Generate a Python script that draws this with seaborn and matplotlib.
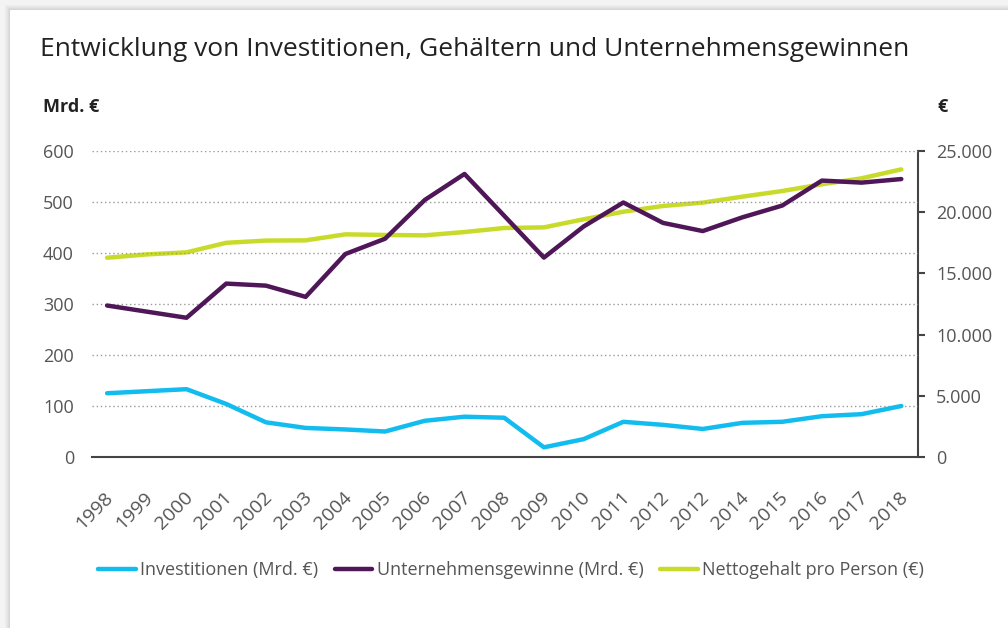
import matplotlib
matplotlib.use("Agg")
import matplotlib.pyplot as plt
import matplotlib.transforms as mtransforms
import seaborn as sns
import pandas as pd
import numpy as np
from matplotlib.patches import Rectangle

years = ["1998", "1999", "2000", "2001", "2002", "2003", "2004", "2005", "2006", "2007",
         "2008", "2009", "2010", "2011", "2012", "2012", "2014", "2015", "2016", "2017", "2018"]
investitionen = [125, 129, 133, 104, 68, 57, 54, 50, 71, 79, 77, 19, 35, 69, 63, 55, 67, 69, 80, 84, 100]
gewinne = [297, 285, 273, 340, 336, 314, 398, 428, 504, 555, 473, 391, 452, 499, 459, 443, 470, 493, 542, 538, 545]
nettogehalt = [16280, 16550, 16720, 17500, 17680, 17700, 18190, 18140, 18110, 18380, 18710,
               18760, 19420, 20040, 20510, 20780, 21270, 21730, 22280, 22770, 23500]

left_ticks = [0, 100, 200, 300, 400, 500, 600]
right_ticks = [0, 5000, 10000, 15000, 20000, 25000]
right_labels = ["0", "5.000", "10.000", "15.000", "20.000", "25.000"]

title = "Entwicklung von Investitionen, Gehältern und Unternehmensgewinnen"
names = ["Investitionen (Mrd. €)", "Unternehmensgewinne (Mrd. €)", "Nettogehalt pro Person (€)"]
colors = ["#12BCEE", "#4F1758", "#C9DB2A"]

sns.set_theme(style="white")
plt.rcParams["font.family"] = ["Open Sans", "DejaVu Sans"]

fig = plt.figure(figsize=(10.08, 6.28), dpi=100)
fig.patch.set_facecolor("#f4f4f4")
W, H = 1008, 628
# card with soft shadow
for i, a in enumerate(np.linspace(0.02, 0.10, 6)):
    fig.patches.append(Rectangle(((4 + i) / W, 0), 1, 1 - (4 + i) / H, transform=fig.transFigure,
                                 facecolor="#9a9a9a", alpha=a, edgecolor="none", zorder=-5))
fig.patches.append(Rectangle((10 / W, 0), 1, 1 - 10 / H, transform=fig.transFigure,
                             facecolor="white", edgecolor="none", zorder=-4))

ax = fig.add_axes([92 / W, 1 - 457 / H, (918 - 92) / W, (457 - 151) / H])
ax.set_facecolor("none")
ax2 = ax.twinx()
ax2.set_facecolor("none")

x = np.arange(len(years))
df = pd.DataFrame({"x": x, "inv": investitionen, "gew": gewinne, "net": nettogehalt})

sns.lineplot(data=df, x="x", y="inv", ax=ax, color=colors[0], linewidth=3.2, label=names[0], legend=False)
sns.lineplot(data=df, x="x", y="gew", ax=ax, color=colors[1], linewidth=3.2, label=names[1], legend=False)
sns.lineplot(data=df, x="x", y="net", ax=ax2, color=colors[2], linewidth=3.2, label=names[2], legend=False)
ax.set_zorder(ax2.get_zorder() + 1)

ax.set_xlim(-0.38, 20.42)
ax.set_ylim(0, 600)
ax2.set_ylim(0, 25000)

ax.set_yticks(left_ticks)
ax.set_yticklabels([str(t) for t in left_ticks], fontsize=13, color="#555555")
ax.tick_params(axis="y", length=0, pad=13)
ax.grid(axis="y", linestyle=(0, (1, 2)), color="#9a9a9a", linewidth=1.0)
ax.grid(axis="x", visible=False)

ax.set_xticks(x)
ax.tick_params(axis="x", length=0, pad=10.5)
ax.set_xticklabels(years, rotation=45, ha="right", va="top", rotation_mode="anchor",
                   fontsize=14, color="#555555")
offset = mtransforms.ScaledTranslation(-0.03, -0.17, fig.dpi_scale_trans)
for lab in ax.get_xticklabels():
    lab.set_transform(lab.get_transform() + offset)

ax2.set_yticks(right_ticks)
ax2.set_yticklabels(right_labels, fontsize=13, color="#555555")
ax2.tick_params(axis="y", length=5, width=1.5, color="#444444", direction="out", pad=8, right=True)
ax2.grid(False)

for a in (ax, ax2):
    for s in ("top", "left"):
        a.spines[s].set_visible(False)
ax.spines["right"].set_visible(False)
ax2.spines["bottom"].set_visible(False)
ax.spines["bottom"].set_color("#444444")
ax.spines["bottom"].set_linewidth(1.5)
ax2.spines["right"].set_color("#444444")
ax2.spines["right"].set_linewidth(1.5)
ax.set_xlabel("")
ax.set_ylabel("")
ax2.set_ylabel("")

fig.text(40 / W, 1 - 50 / H, title, fontsize=19, color="#222222", va="center", ha="left")
fig.text(43 / W, 1 - 107 / H, "Mrd. €", fontsize=13, fontweight="bold", color="#222222", va="center", ha="left")
fig.text(943 / W, 1 - 107 / H, "€", fontsize=13, fontweight="bold", color="#222222", va="center", ha="center")

h1, l1 = ax.get_legend_handles_labels()
h2, l2 = ax2.get_legend_handles_labels()
fig.legend(h1 + h2, l1 + l2, loc="center", bbox_to_anchor=(511 / W, 1 - 570 / H), ncol=3,
           frameon=False, fontsize=13, handlelength=2.1, handletextpad=0.25, columnspacing=0.9,
           labelcolor="#555555")

fig.savefig("out.png", dpi=100, facecolor=fig.get_facecolor())
